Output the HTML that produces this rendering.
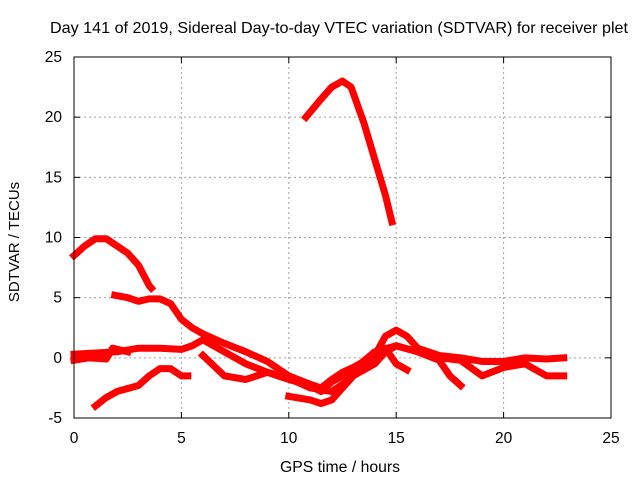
<!DOCTYPE html>
<html><head><meta charset="utf-8"><style>
body{margin:0;background:#fff}
svg{display:block;font-family:"Liberation Sans",sans-serif}
</style></head><body>
<svg id="c" width="640" height="480" xmlns="http://www.w3.org/2000/svg">
<text x="339" y="33" text-anchor="middle" font-size="16" textLength="578" lengthAdjust="spacingAndGlyphs">Day 141 of 2019, Sidereal Day-to-day VTEC variation (SDTVAR) for receiver plet</text>
<text x="340" y="472" text-anchor="middle" font-size="15.5" textLength="120" lengthAdjust="spacingAndGlyphs">GPS time / hours</text>
<text transform="translate(19,242) rotate(-90)" text-anchor="middle" font-size="15">SDTVAR / TECUs</text>
<g id="grid"></g><g id="ticks"></g><g id="series"></g>
<rect x="74" y="57" width="537" height="361" fill="none" stroke="#000" stroke-width="1"/>
</svg>
<script>
const xTicks=[0,5,10,15,20,25];
const yTicks=[-5,0,5,10,15,20,25];
const sA=[[0,8.5],[0.5,9.3],[1,9.9],[1.5,9.9],[2,9.3],[2.5,8.7],[3,7.7],[3.5,6.0],[3.6,5.8]];
const sB=[[10.8,20],[11.5,21.5],[12,22.5],[12.5,23],[12.9,22.5],[13.5,19.5],[14,16.5],[14.5,13.5],[14.8,11.3]];
const sC=[[1.9,5.2],[2.5,5.0],[3,4.7],[3.5,4.9],[4,4.9],[4.5,4.5],[5,3.2],[5.5,2.5],[6,2.0],[7,1.2],[8,0.5],[9,-0.3],[10,-1.5],[11,-2.2],[11.5,-2.5],[12,-1.8],[12.5,-1.2],[13,-0.8],[14,0.2],[14.5,1.8],[15,2.3],[15.5,1.8],[16,0.8],[17,0.2],[18,0],[19,-0.3],[20,-0.3],[21,0],[22,-0.1],[22.8,0]];
const sD=[[0,0.3],[1,0.4],[2,0.5],[3,0.8],[4,0.8],[5,0.7],[5.5,1],[6,1.5],[6.5,1.0],[7,0.5],[8,-0.5],[9,-1.2],[10,-1.7],[11,-2.5],[12,-2.8],[12.5,-2.2],[13,-1.5],[14,-0.5],[14.5,0.5],[15,1.0],[16,0.5],[17,-0.2],[17.5,-1.5],[18,-2.3]];
const sE=[[1,-4],[1.5,-3.3],[2,-2.8],[3,-2.3],[3.5,-1.5],[4,-0.9],[4.5,-0.9],[5,-1.5],[5.3,-1.5]];
const sF=[[6,0.2],[7,-1.5],[8,-1.8],[9,-1.2],[10,-1.8],[11,-2.3],[11.5,-2.8],[12,-2],[13,-1],[14,0.5],[15,1.0],[16,0.5],[17,0],[18,-0.2],[19,-1.5],[20,-0.8],[21,-0.5],[22,-1.5],[22.8,-1.5]];
const sG=[[10,-3.2],[11,-3.5],[11.5,-3.8],[12,-3.5],[12.5,-2.5],[13,-1.5],[14,-0.2],[14.5,0.8],[15,-0.5],[15.5,-1.0]];
const sH=[[0,-0.2],[0.7,0],[1.5,-0.1],[1.8,0.8],[2.5,0.5]];
const allSeries=[sA,sB,sC,sD,sE,sF,sG,sH];
const X=v=>74+v*537/25, Y=v=>418-(v+5)*361/30;
const NS="http://www.w3.org/2000/svg";
function mk(t,a,p){const e=document.createElementNS(NS,t);for(const k in a)e.setAttribute(k,a[k]);p.appendChild(e);return e;}
const g=document.getElementById('grid'),tk=document.getElementById('ticks'),sg=document.getElementById('series');
xTicks.forEach(v=>{
 if(v>0&&v<25){const l=mk('line',{x1:X(v),x2:X(v),y1:57,y2:418,stroke:'#a0a0a0','stroke-dasharray':'2,3'},g);
 }
 const t=mk('text',{x:X(v),y:443,'text-anchor':'middle','font-size':15.5},tk);t.textContent=v;
 
 mk('line',{x1:X(v),x2:X(v),y1:418,y2:412,stroke:'#000'},tk);mk('line',{x1:X(v),x2:X(v),y1:57,y2:63,stroke:'#000'},tk);
});
yTicks.forEach(v=>{
 if(v>-5&&v<25){const l=mk('line',{x1:74,x2:611,y1:Y(v),y2:Y(v),stroke:'#a0a0a0','stroke-dasharray':'2,3'},g);
 }
 const t=mk('text',{x:62,y:Y(v)+5,'text-anchor':'end','font-size':15.5},tk);t.textContent=v;
 
 mk('line',{x1:74,x2:80,y1:Y(v),y2:Y(v),stroke:'#000'},tk);mk('line',{x1:611,x2:605,y1:Y(v),y2:Y(v),stroke:'#000'},tk);
});
allSeries.forEach(s=>{
 const p=mk('polyline',{points:s.map(d=>X(d[0])+','+Y(d[1])).join(' '),fill:'none',stroke:'#ff0000','stroke-width':7,'stroke-linejoin':'round','stroke-linecap':'square'},sg);
 
 
});
</script>
</body></html>
